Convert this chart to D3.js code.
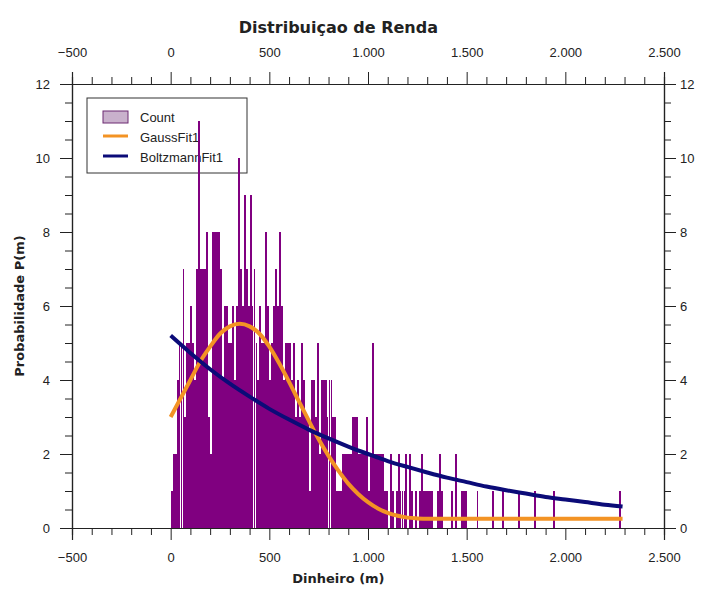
<!DOCTYPE html>
<html>
<head>
<meta charset="utf-8">
<script src="https://d3js.org/d3.v7.min.js"></script>
<style>
  body { margin: 0; background: #fff; }
  text { font-family: "Liberation Sans", Arial, sans-serif; fill: #222; }
</style>
</head>
<body>
<script>
var width = 704;
var height = 591;

// histogram: bins of width 10 starting at 0 (counts per bin)
var binWidth = 10;
var counts = [
  1,2,2,4,5,5,7,3,5,5,
  6,5,4,7,11,7,7,7,8,3,
  2,8,8,8,8,7,4,6,6,5,
  5,6,4,6,10,7,6,9,7,6,
  9,6,7,5,4,6,5,5,8,6,
  4,5,6,7,6,8,6,4,5,5,
  5,4,5,3,4,3,5,4,3,3,
  1,4,4,3,5,2,4,4,4,3,
  4,4,3,3,1,1,1,2,2,2,
  2,2,3,3,3,2,2,2,2,3,
  1,2,5,2,2,2,2,2,1,1,
  0,2,1,0,1,2,1,1,1,2,
  0,2,1,0,1,0,1,2,1,1,
  1,1,1,0,0,1,2,1,0,0,
  0,0,1,0,2,0,0,1,1,1,
  0,0,0,0,0,1,0,0,0,0,
  0,0,0,1,0,0,0,0,1,0,
  0,0,0,0,0,0,1,0,0,0,
  0,0,0,0,1,0,0,0,0,0,
  0,0,0,0,1,0,0,0,0,0,
  0,0,0,0,0,0,0,0,0,0,
  0,0,0,0,0,0,0,0,0,0,
  0,0,0,0,0,0,0,1,0,0
];

// fitted curves
var gaussX = [0,50,100,150,200,250,300,350,400,450,500,550,600,650,700,750,800,850,900,950,1000,1050,1100,1150,1200,1250,1300,1400,1600,1800,2000,2200,2290];
var gaussY = [3.0,3.5,4.0,4.5,4.9,5.25,5.45,5.52,5.45,5.25,4.9,4.45,3.95,3.42,2.9,2.4,1.95,1.55,1.2,0.92,0.7,0.53,0.41,0.33,0.28,0.26,0.25,0.25,0.25,0.25,0.25,0.25,0.25];

var boltzX = [0,100,200,300,400,500,600,700,800,900,1000,1100,1200,1300,1400,1500,1600,1700,1800,1900,2000,2100,2200,2290];
var boltzY = [5.2,4.73,4.29,3.9,3.55,3.22,2.93,2.66,2.42,2.2,2.0,1.81,1.65,1.5,1.36,1.24,1.12,1.02,0.93,0.84,0.77,0.7,0.63,0.58];

var xTicks = [-500, 0, 500, 1000, 1500, 2000, 2500];
var yTicks = [0, 2, 4, 6, 8, 10, 12];

var legendNames = ["Count", "GaussFit1", "BoltzmannFit1"];

var margin = { top: 84, right: 40, bottom: 63, left: 72 };

var svg = d3.select("body").append("svg")
    .attr("width", width)
    .attr("height", height);

var x = d3.scaleLinear().domain([-500, 2500]).range([margin.left, width - margin.right]);
var y = d3.scaleLinear().domain([0, 12]).range([height - margin.bottom, margin.top]);

var locale = d3.formatLocale({ decimal: ",", thousands: ".", grouping: [3], currency: ["", ""] });
var fmt = locale.format(",");

var xMinor = d3.range(-500, 2501, 100).filter(d => d % 500 != 0);
var yMinor = d3.range(0, 12.01, 0.5).filter(d => d % 2 != 0);

// major + minor ticks for the four sides
function drawAxis(axisFn, scale, major, minor, tx, ty, pad) {
  var g = svg.append("g").attr("transform", `translate(${tx},${ty})`);
  g.call(axisFn(scale).tickValues(minor).tickSize(7).tickFormat(""));
  var g2 = svg.append("g").attr("transform", `translate(${tx},${ty})`);
  g2.call(axisFn(scale).tickValues(major).tickSize(12).tickPadding(pad).tickFormat(fmt));
  [g, g2].forEach(a => {
    a.selectAll("path").attr("stroke", "#222");
    a.selectAll("line").attr("stroke", "#222");
    a.selectAll("text").style("font-size", "13px")
      .style("font-family", '"Liberation Sans", Arial, sans-serif').attr("fill", "#222");
  });
  return g2;
}

drawAxis(d3.axisBottom, x, xTicks, xMinor, 0, y(0), 13);
drawAxis(d3.axisTop, x, xTicks, xMinor, 0, y(12), 15);
drawAxis(d3.axisLeft, y, yTicks, yMinor, x(-500), 0, 10);
drawAxis(d3.axisRight, y, yTicks, yMinor, x(2500), 0, 4);
svg.selectAll(".domain").attr("stroke-width", 1.2);

// legend (sits under the bars)
var lg = svg.append("g").attr("class", "legend");
lg.append("rect")
  .attr("x", 87).attr("y", 98).attr("width", 160).attr("height", 75)
  .attr("fill", "#fff").attr("stroke", "#333").attr("stroke-width", 1);
lg.append("rect")
  .attr("x", 103).attr("y", 111).attr("width", 25).attr("height", 12)
  .attr("fill", "#c9b1cc").attr("stroke", "#6d2a72").attr("stroke-width", 1);
lg.append("line")
  .attr("x1", 103).attr("x2", 128).attr("y1", 136).attr("y2", 136)
  .attr("stroke", "#f39324").attr("stroke-width", 3);
lg.append("line")
  .attr("x1", 103).attr("x2", 128).attr("y1", 156).attr("y2", 156)
  .attr("stroke", "#0b0b78").attr("stroke-width", 3);
lg.selectAll("text.lbl")
  .data(legendNames)
  .enter().append("text")
    .attr("class", "lbl")
    .attr("x", 140)
    .attr("y", (d, i) => 117 + i * 20)
    .attr("dy", ".35em")
    .style("font-size", "13px")
    .text(d => d);

// histogram bars
var bins = counts.map((c, i) => ({ x0: i * binWidth, n: c })).filter(d => d.n > 0);
svg.append("g").attr("class", "bars")
  .selectAll("rect")
  .data(bins)
  .enter().append("rect")
    .attr("x", d => x(d.x0))
    .attr("width", (x(binWidth) - x(0)) * 0.97)
    .attr("y", d => y(d.n))
    .attr("height", d => y(0) - y(d.n))
    .attr("fill", "#800080")
    .attr("shape-rendering", "crispEdges");

// fit curves
var line = d3.line()
    .x(d => x(d[0]))
    .y(d => y(d[1]))
    .curve(d3.curveMonotoneX);

svg.append("path")
  .datum(gaussX.map((v, i) => [v, gaussY[i]]))
  .attr("d", line)
  .attr("fill", "none")
  .attr("stroke", "#f39324")
  .attr("stroke-width", 4);

svg.append("path")
  .datum(boltzX.map((v, i) => [v, boltzY[i]]))
  .attr("d", line)
  .attr("fill", "none")
  .attr("stroke", "#0b0b78")
  .attr("stroke-width", 4);

// titles
svg.append("text")
  .attr("x", x(850)).attr("y", 33)
  .attr("text-anchor", "middle")
  .style("font-family", '"DejaVu Sans", sans-serif')
  .style("font-size", "16px").style("font-weight", "bold")
  .text("Distribuiçao de Renda");

svg.append("text")
  .attr("x", x(850)).attr("y", 583)
  .attr("text-anchor", "middle")
  .style("font-family", '"DejaVu Sans", sans-serif')
  .style("font-size", "13px").style("font-weight", "bold")
  .text("Dinheiro (m)");

svg.append("text")
  .attr("transform", `translate(24,${(y(0) + y(12)) / 2}) rotate(-90)`)
  .attr("text-anchor", "middle")
  .style("font-family", '"DejaVu Sans", sans-serif')
  .style("font-size", "13px").style("font-weight", "bold")
  .text("Probabilidade P(m)");
</script>
</body>
</html>
